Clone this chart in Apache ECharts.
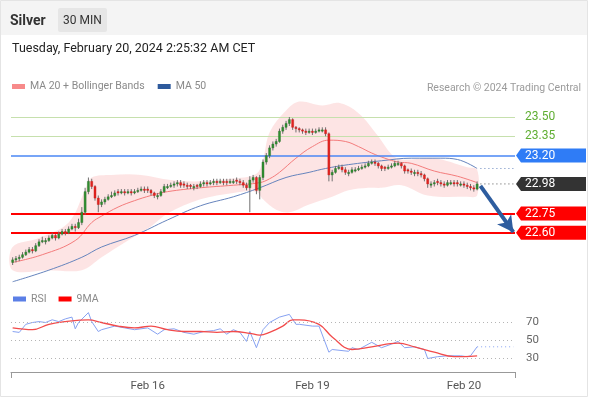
<!DOCTYPE html>
<html>
<head>
<meta charset="utf-8">
<script src="https://cdn.jsdelivr.net/npm/echarts@6/dist/echarts.min.js"></script>
<style>
html,body{margin:0;padding:0;background:#fff;}
#chart{width:589px;height:400px;}
</style>
</head>
<body>
<div id="chart"></div>
<script>
// ---------- DATA ----------
const slotCount = 153; // 30-min slots incl. projection area
const dayTickIndex = [41, 91, 137];
const dayTickLabels = ['Feb 16', 'Feb 19', 'Feb 20'];

const opens = [
22.37,22.39,22.40,22.41,22.43,22.45,22.47,22.46,22.50,22.53,
22.53,22.54,22.56,22.58,22.56,22.59,22.61,22.60,22.63,22.65,
22.64,22.68,22.76,22.92,23.00,22.96,22.87,22.82,22.84,22.86,
22.88,22.89,22.92,22.91,22.92,22.91,22.92,22.91,22.92,22.93,
22.94,22.94,22.93,22.91,22.88,22.89,22.92,22.95,22.96,22.97,
22.98,22.99,22.98,22.97,22.97,22.95,22.97,22.96,22.98,22.99,
22.98,22.99,23.00,22.99,23.00,23.00,22.99,22.99,23.01,23.00,
22.99,22.97,22.95,23.01,23.03,22.93,23.03,23.15,23.20,23.26,
23.29,23.31,23.39,23.42,23.45,23.48,23.42,23.41,23.40,23.39,
23.38,23.39,23.38,23.39,23.39,23.40,23.37,23.05,23.07,23.10,
23.11,23.09,23.06,23.07,23.08,23.09,23.10,23.11,23.12,23.14,
23.15,23.14,23.12,23.11,23.10,23.11,23.12,23.13,23.14,23.12,
23.09,23.08,23.06,23.07,23.06,23.05,23.02,22.97,22.98,23.00,
22.99,22.98,22.97,22.98,22.99,22.99,22.97,22.98,22.97,22.96,
22.95,22.94];
const closes = [
22.39,22.40,22.41,22.43,22.45,22.47,22.46,22.50,22.53,22.54,
22.54,22.56,22.58,22.56,22.59,22.61,22.60,22.63,22.65,22.64,
22.68,22.76,22.92,23.00,22.96,22.87,22.82,22.84,22.86,22.88,
22.89,22.91,22.91,22.92,22.91,22.92,22.91,22.92,22.93,22.94,
22.93,22.93,22.91,22.89,22.89,22.92,22.96,22.96,22.97,22.98,
22.99,22.97,22.97,22.96,22.96,22.96,22.96,22.98,22.99,22.98,
22.99,23.00,22.99,23.00,22.99,22.99,23.00,23.00,23.00,22.99,
22.97,22.95,23.01,23.03,22.93,23.03,23.15,23.20,23.26,23.29,
23.31,23.39,23.42,23.45,23.48,23.42,23.41,23.40,23.39,23.38,
23.39,23.38,23.39,23.40,23.40,23.37,23.05,23.07,23.10,23.11,
23.09,23.07,23.07,23.09,23.09,23.10,23.11,23.12,23.14,23.15,
23.14,23.12,23.10,23.10,23.11,23.12,23.14,23.14,23.12,23.08,
23.08,23.07,23.07,23.06,23.05,23.02,22.98,22.98,22.99,22.99,
22.98,22.97,22.99,22.99,22.98,22.98,22.98,22.97,22.96,22.95,
22.94,22.98];
const highs = [
22.41,22.42,22.43,22.45,22.47,22.49,22.49,22.52,22.55,22.57,
22.56,22.58,22.60,22.59,22.61,22.63,22.63,22.65,22.67,22.67,
22.71,22.80,22.95,23.03,23.02,22.97,22.89,22.86,22.88,22.90,
22.92,22.93,22.94,22.94,22.94,22.94,22.94,22.94,22.95,22.96,
22.96,22.96,22.94,22.92,22.91,22.94,22.98,22.98,22.99,23.00,
23.01,23.01,23.00,22.99,22.98,22.98,22.98,23.00,23.01,23.01,
23.01,23.02,23.02,23.02,23.02,23.02,23.02,23.02,23.03,23.02,
23.01,22.99,23.04,23.05,23.04,23.05,23.17,23.22,23.28,23.31,
23.33,23.41,23.44,23.47,23.50,23.49,23.43,23.42,23.41,23.41,
23.41,23.41,23.41,23.42,23.42,23.42,23.38,23.09,23.12,23.13,
23.13,23.11,23.09,23.11,23.11,23.12,23.13,23.14,23.16,23.17,
23.17,23.15,23.13,23.12,23.13,23.14,23.16,23.16,23.15,23.13,
23.10,23.10,23.09,23.09,23.08,23.06,23.03,23.00,23.01,23.02,
23.01,23.00,23.01,23.01,23.01,23.01,23.00,23.00,22.99,22.98,
22.97,23.00];
const lows = [
22.35,22.37,22.38,22.40,22.42,22.44,22.44,22.45,22.49,22.52,
22.51,22.53,22.55,22.54,22.55,22.58,22.58,22.59,22.62,22.61,
22.63,22.66,22.74,22.90,22.94,22.85,22.76,22.80,22.82,22.85,
22.87,22.88,22.89,22.90,22.89,22.90,22.89,22.90,22.91,22.92,
22.91,22.91,22.89,22.87,22.86,22.88,22.91,22.94,22.95,22.95,
22.96,22.95,22.95,22.94,22.94,22.93,22.94,22.95,22.96,22.96,
22.97,22.97,22.97,22.98,22.97,22.97,22.98,22.98,22.98,22.97,
22.95,22.93,22.76,22.99,22.90,22.86,23.01,23.13,23.18,23.24,
23.27,23.30,23.37,23.40,23.43,23.40,23.38,23.38,23.37,23.36,
23.37,23.36,23.37,23.38,23.38,23.35,23.00,23.00,23.06,23.09,
23.07,23.05,23.04,23.06,23.07,23.08,23.09,23.10,23.11,23.13,
23.12,23.10,23.08,23.08,23.09,23.10,23.11,23.12,23.10,23.06,
23.06,23.05,23.04,23.04,23.03,23.00,22.95,22.95,22.96,22.97,
22.96,22.95,22.96,22.97,22.96,22.96,22.96,22.95,22.94,22.93,
22.92,22.93];

const ma20Idx = [0,9,19,24,27,32,37,42,47,57,67,75,78,81,86,91,96,101,105,109,113,117,121,128,135,141];
const ma20Val = [22.37,22.43,22.54,22.68,22.73,22.80,22.85,22.89,22.92,22.95,22.97,22.99,23.02,23.07,23.18,23.27,23.32,23.31,23.27,23.22,23.18,23.15,23.14,23.08,23.04,22.99];
const bbUpIdx = [0,8,17,22,24,30,39,48,57,66,74,76,78,83,87,94,99,105,111,115,118,128,138,141];
const bbUpVal = [22.49,22.56,22.68,22.93,23.03,23.05,23.05,23.01,23.00,23.02,23.06,23.17,23.38,23.55,23.62,23.59,23.61,23.53,23.35,23.21,23.17,23.18,23.11,23.09];
const bbLoIdx = [0,11,21,27,35,42,47,57,67,74,76,80,84,90,97,102,108,112,118,126,138,141];
const bbLoVal = [22.31,22.31,22.31,22.41,22.54,22.65,22.75,22.86,22.91,22.92,22.86,22.78,22.76,22.82,22.88,22.93,22.95,22.95,22.97,22.89,22.88,22.89];
const ma50Idx = [0,11,21,27,37,47,57,67,75,83,90,95,102,112,121,130,135,141];
const ma50Val = [22.22,22.31,22.41,22.49,22.58,22.70,22.81,22.88,22.95,23.03,23.07,23.10,23.13,23.16,23.18,23.18,23.17,23.10];

const rsiIdx = [0,2,4,6,8,10,12,14,16,18,19,20,23,24,26,27,31,34,37,41,44,46,49,52,55,58,61,63,65,67,69,71,72,74,76,78,81,84,86,87,91,93,96,97,102,103,105,109,112,115,117,119,122,125,126,129,132,136,138,139,141];
const rsiVal = [60,59,68,70,71,70,73,71,74,76,63,70,81,71,60,62,66,64,62,64,57,62,63,59,57,60,61,63,57,62,59,49,60,42,62,70,76,79,68,68,66,66,37,40,38,42,40,48,42,46,49,42,43,40,30,32,33,33,32,33,43];
const ma9Idx = [0,6,11,16,23,27,32,37,42,47,52,57,62,67,72,75,78,82,85,87,93,97,103,109,117,122,128,134,141];
const ma9Val = [64,62,68,71,73,70,66,64,66,62,60,60,59,60,58,56,59,66,73,73,68,54,40,43,47,43,37,32,33];

const levels = [23.50, 23.35, 23.20, 22.98, 22.75, 22.60];
const levelKinds = ['minor', 'minor', 'pivot', 'last', 'support', 'support'];
const rsiLevels = [70, 50, 30];
const lastClose = 22.98;
const lastMa50 = 23.10;
const lastRsi = 43;
const arrowTarget = 22.60;

// ---------- BUILD ----------
const categories = Array.from({length: slotCount}, (_, i) => 'slot' + i);
const pairs = (idx, val) => idx.map((x, k) => [x, val[k]]);
const candleData = closes.map((c, i) => [i, opens[i], c, lows[i], highs[i]]);
const lastIdx = closes.length - 1;
const FONT = 'Roboto, Arial, sans-serif';

const levelStyle = {
  minor:   {color: '#c6e0ad', width: 1},
  pivot:   {color: '#4a87f5', width: 1.5},
  last:    null,
  support: {color: '#ff0000', width: 2}
};
const boxColor = {pivot: '#2f7cf6', last: '#333333', support: '#ff0000'};

const levelMarks = [];
levels.forEach((v, k) => {
  const st = levelStyle[levelKinds[k]];
  if (st) levelMarks.push({yAxis: v, lineStyle: {color: st.color, width: st.width, type: 'solid'}});
});
levelMarks.push([
  {coord: [lastIdx + 1, lastClose - 0.015], lineStyle: {color: '#2e5d9f', width: 4, type: 'solid'}},
  {coord: [slotCount - 1, arrowTarget + 0.005], symbol: 'arrow', symbolSize: [13, 16]}
]);

const chart = echarts.init(document.getElementById('chart'), null, {renderer: 'canvas'});
chart.setOption({
  animation: false,
  textStyle: {fontFamily: FONT},
  graphic: [
    {type: 'rect', z: -10, shape: {x: 0.5, y: 0.5, width: 587, height: 396}, style: {fill: '#fff', stroke: '#e4e4e4', lineWidth: 1}},
    {type: 'rect', z: -9, shape: {x: 1, y: 1, width: 586, height: 34}, style: {fill: '#f4f4f4'}},
    {type: 'text', z: 10, style: {x: 10, y: 21, text: 'Silver', fill: '#333', font: 'bold 14px ' + FONT, verticalAlign: 'middle'}},
    {type: 'rect', z: 10, shape: {x: 58, y: 8, width: 49, height: 24, r: 2}, style: {fill: '#e6e6e6'}},
    {type: 'text', z: 11, style: {x: 82.5, y: 20.5, text: '30 MIN', fill: '#333', font: '12px ' + FONT, align: 'center', verticalAlign: 'middle'}},
    {type: 'text', z: 10, style: {x: 12, y: 49, text: 'Tuesday, February 20, 2024 2:25:32 AM CET', fill: '#222', font: '12.5px ' + FONT, verticalAlign: 'middle'}},
    {type: 'text', z: 10, style: {x: 581, y: 88, text: 'Research \u00a9 2024 Trading Central', fill: '#9b9b9b', font: '10.5px ' + FONT, align: 'right', verticalAlign: 'middle'}}
  ],
  legend: [
    {left: 7, top: 76, itemWidth: 13, itemHeight: 5, icon: 'rect', itemGap: 13, selectedMode: false,
     textStyle: {color: '#8a8a8a', fontSize: 10.5},
     data: [{name: 'MA 20 + Bollinger Bands', itemStyle: {color: '#f78a8a'}}, {name: 'MA 50', itemStyle: {color: '#2e5a9c'}}]},
    {left: 8, top: 288.5, itemWidth: 13, itemHeight: 5, icon: 'rect', itemGap: 12, selectedMode: false,
     textStyle: {color: '#8a8a8a', fontSize: 10.5},
     data: [{name: 'RSI', itemStyle: {color: '#5b7fe6'}}, {name: '9MA', itemStyle: {color: '#ff0000'}}]}
  ],
  grid: [
    {left: 11, right: 74, top: 97.7, height: 193.05},
    {left: 11, right: 74, top: 309, height: 63}
  ],
  xAxis: [
    {type: 'category', gridIndex: 0, data: categories, boundaryGap: true, show: false},
    {type: 'category', gridIndex: 1, data: categories, boundaryGap: true,
     axisLine: {show: false}, axisTick: {show: false},
     axisLabel: {color: '#555', fontSize: 11.5, margin: 8,
       interval: (i) => dayTickIndex.includes(i),
       formatter: (v, i) => { const k = dayTickIndex.indexOf(i); return k >= 0 ? dayTickLabels[k] : ''; }}},
    {type: 'value', gridIndex: 1, min: 0, max: 1, interval: 1, position: 'bottom',
     axisLine: {show: true, lineStyle: {color: '#999', width: 1}},
     axisTick: {show: true, length: 6, lineStyle: {color: '#999'}},
     axisLabel: {show: false}, splitLine: {show: false}}
  ],
  yAxis: [
    {type: 'value', gridIndex: 0, min: 22.15, max: 23.65, show: false, splitLine: {show: false}},
    {type: 'value', gridIndex: 1, min: 15, max: 85, show: false, splitLine: {show: false}}
  ],
  series: [
    {
      name: 'band', type: 'custom', xAxisIndex: 0, yAxisIndex: 0, z: 1, silent: true,
      data: [[0, bbUpVal[0]]],
      renderItem: (params, api) => {
        const pts = [];
        bbUpIdx.forEach((x, k) => pts.push(api.coord([x, bbUpVal[k]])));
        for (let k = bbLoIdx.length - 1; k >= 0; k--) pts.push(api.coord([bbLoIdx[k], bbLoVal[k]]));
        return {type: 'polygon', shape: {points: pts, smooth: 0.35}, style: {fill: 'rgba(246,105,105,0.18)'}};
      }
    },
    {
      name: 'MA 50', type: 'line', xAxisIndex: 0, yAxisIndex: 0, z: 3,
      data: pairs(ma50Idx, ma50Val), smooth: 0.4, showSymbol: false, symbol: 'none',
      itemStyle: {color: '#2e5a9c'}, lineStyle: {color: '#6684bd', width: 1},
      markLine: {silent: true, symbol: 'none', label: {show: false}, data: levelMarks}
    },
    {
      name: 'MA 20 + Bollinger Bands', type: 'line', xAxisIndex: 0, yAxisIndex: 0, z: 3,
      data: pairs(ma20Idx, ma20Val), smooth: 0.4, showSymbol: false, symbol: 'none',
      itemStyle: {color: '#f78a8a'}, lineStyle: {color: '#f47c7c', width: 1}
    },
    {
      name: 'ma50ext', type: 'line', xAxisIndex: 0, yAxisIndex: 0, z: 3, showSymbol: false, symbol: 'none',
      data: [[lastIdx + 1, lastMa50], [slotCount - 1, lastMa50]],
      lineStyle: {color: '#6684bd', width: 1, type: [1, 3]}
    },
    {
      name: 'lastext', type: 'line', xAxisIndex: 0, yAxisIndex: 0, z: 3, showSymbol: false, symbol: 'none',
      data: [[lastIdx + 1, lastClose], [slotCount - 1, lastClose]],
      lineStyle: {color: '#555', width: 1, type: [1, 3]}
    },
    {
      name: 'candles', type: 'custom', xAxisIndex: 0, yAxisIndex: 0, z: 5,
      data: candleData, encode: {x: 0, y: [1, 2, 3, 4]},
      renderItem: (params, api) => {
        const i = api.value(0);
        const o = api.value(1), c = api.value(2), l = api.value(3), h = api.value(4);
        const pO = api.coord([i, o]), pC = api.coord([i, c]);
        const pL = api.coord([i, l]), pH = api.coord([i, h]);
        const w = api.size([1, 0])[0] * 0.62;
        const top = Math.min(pO[1], pC[1]);
        const ht = Math.max(1, Math.abs(pO[1] - pC[1]));
        return {type: 'group', children: [
          {type: 'line', shape: {x1: pH[0], y1: pH[1], x2: pL[0], y2: pL[1]}, style: {stroke: '#6f6f6f', lineWidth: 1}},
          {type: 'rect', shape: {x: pO[0] - w / 2, y: top, width: w, height: ht},
           style: {fill: c >= o ? '#2f8f2f' : '#e3231f', stroke: c >= o ? '#2a6f2a' : '#c41a17', lineWidth: 0.4}}
        ]};
      }
    },
    {
      name: 'levelLabels', type: 'custom', xAxisIndex: 0, yAxisIndex: 0, z: 8, clip: false, silent: true,
      data: levels.map(v => [0, v]), encode: {x: 0, y: 1},
      renderItem: (params, api) => {
        const v = api.value(1);
        const kind = levelKinds[params.dataIndex];
        const y = api.coord([0, v])[1];
        const cs = params.coordSys;
        const x0 = cs.x + cs.width + 1;
        const txt = v.toFixed(2);
        if (kind === 'minor') {
          return {type: 'text', style: {x: x0 + 9, y: y, text: txt, fill: '#5fae32', font: '12px ' + FONT, verticalAlign: 'middle'}};
        }
        const xr = x0 + 70;
        return {type: 'group', children: [
          {type: 'polygon', shape: {points: [[x0, y], [x0 + 5, y - 7], [xr, y - 7], [xr, y + 7], [x0 + 5, y + 7]]}, style: {fill: boxColor[kind]}},
          {type: 'text', style: {x: x0 + 9, y: y, text: txt, fill: '#fff', font: '12px ' + FONT, verticalAlign: 'middle'}}
        ]};
      }
    },
    {
      name: 'RSI', type: 'line', xAxisIndex: 1, yAxisIndex: 1, z: 3,
      data: pairs(rsiIdx, rsiVal), showSymbol: false, symbol: 'none',
      itemStyle: {color: '#5b7fe6'}, lineStyle: {color: '#87a2f2', width: 1},
      markLine: {silent: true, symbol: 'none',
        lineStyle: {color: '#b5b5b5', width: 1, type: [1, 3]},
        label: {position: 'end', distance: 11, color: '#666', fontSize: 11.5, formatter: (p) => String(p.value)},
        data: rsiLevels.map(v => ({yAxis: v}))}
    },
    {
      name: 'rsiext', type: 'line', xAxisIndex: 1, yAxisIndex: 1, z: 3, showSymbol: false, symbol: 'none',
      data: [[lastIdx, lastRsi], [slotCount - 1, lastRsi]],
      lineStyle: {color: '#87a2f2', width: 1, type: [1, 3]}
    },
    {
      name: '9MA', type: 'line', xAxisIndex: 1, yAxisIndex: 1, z: 4,
      data: pairs(ma9Idx, ma9Val), smooth: 0.4, showSymbol: false, symbol: 'none',
      itemStyle: {color: '#ff0000'}, lineStyle: {color: '#f24b4b', width: 1.3}
    }
  ]
});
</script>
</body>
</html>
